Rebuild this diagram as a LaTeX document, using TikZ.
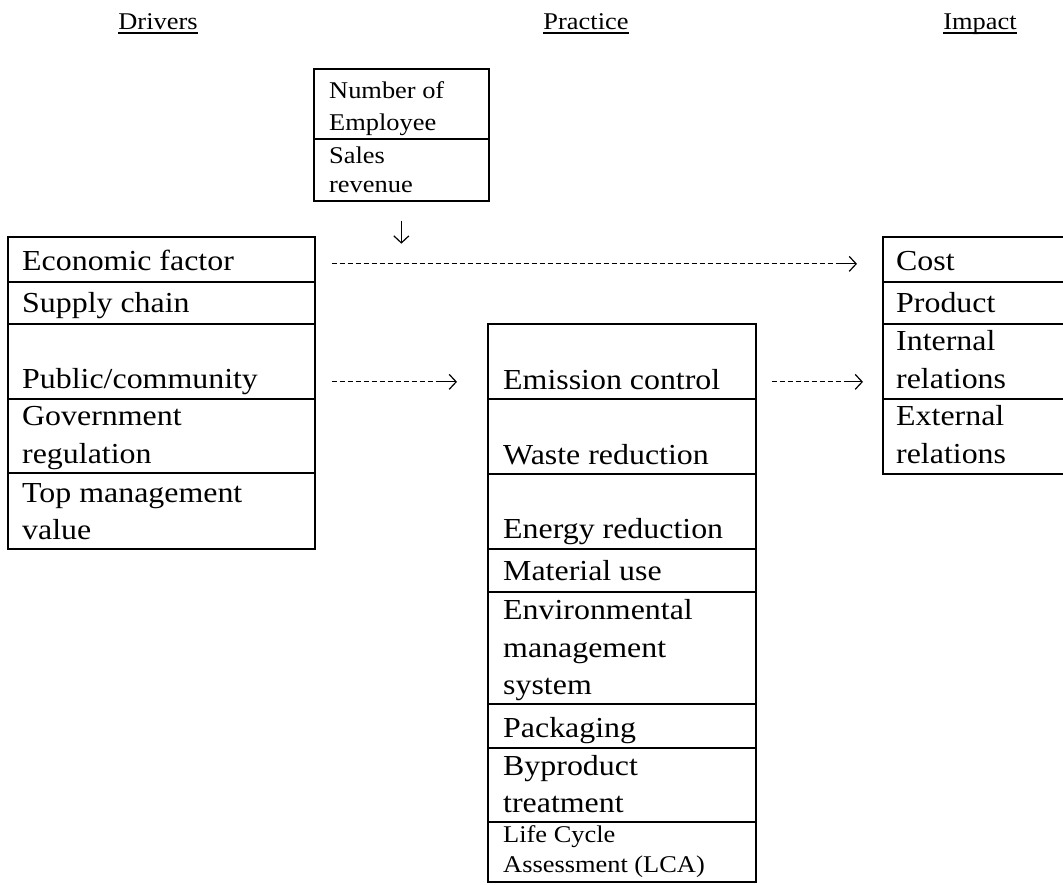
\documentclass[tikz,border=0pt]{standalone}
\usepackage{fontspec}
\setmainfont{Liberation Serif}[FakeStretch=1.1]
\usetikzlibrary{arrows.meta}
\begin{document}
\begin{tikzpicture}[x=1pt,y=-1pt,
  cell/.style={draw, line width=1.7pt, rectangle, inner sep=0pt, anchor=north west},
  big/.style={anchor=base west, inner sep=0pt, font=\fontsize{29pt}{38pt}\selectfont},
  small/.style={anchor=base west, inner sep=0pt, font=\fontsize{24pt}{30pt}\selectfont},
  hdr/.style={anchor=base, inner sep=0pt, font=\fontsize{24pt}{30pt}\selectfont},
  uline/.style={line width=1.3pt},
  dashshaft/.style={line width=1.2pt, dash pattern=on 5pt off 3pt},
  headarrow/.style={line width=1.2pt, -{Straight Barb[length=7pt,width=15pt,line width=1.2pt]}}
]
\useasboundingbox (0,0) rectangle (1063,884);

% headers
\node[hdr] (hdrA) at (158,29) {Drivers};
\node[hdr] (hdrB) at (586,29) {Practice};
\node[hdr] (hdrC) at (980,29) {Impact};
\foreach \h in {hdrA,hdrB,hdrC}
  \draw[uline] ([yshift=-4pt]\h.base west) -- ([yshift=-4pt]\h.base east);

% top box
\node[cell, minimum width=175pt, minimum height=70pt] (emp) at (313,68) {};
\node[cell, minimum width=175pt, minimum height=62pt] (sales) at (313,138) {};
\node[small] at (329,98) {Number of};
\node[small] at (329,130) {Employee};
\node[small] at (329,163) {Sales};
\node[small] at (329,192) {revenue};

% drivers
\node[cell, minimum width=307pt, minimum height=45pt] (econ) at (7,236) {};
\node[cell, minimum width=307pt, minimum height=42pt] (supply) at (7,281) {};
\node[cell, minimum width=307pt, minimum height=75pt] (public) at (7,323) {};
\node[cell, minimum width=307pt, minimum height=74pt] (gov) at (7,398) {};
\node[cell, minimum width=307pt, minimum height=76pt] (topm) at (7,472) {};
\node[big] at (22,270) {Economic factor};
\node[big] at (22,312) {Supply chain};
\node[big] at (22,388) {Public/community};
\node[big] at (22,425) {Government};
\node[big] at (22,463) {regulation};
\node[big] at (22,502) {Top management};
\node[big] at (22,539) {value};

% practice
\node[cell, minimum width=268pt, minimum height=75pt] (emis) at (487,323) {};
\node[cell, minimum width=268pt, minimum height=75pt] (waste) at (487,398) {};
\node[cell, minimum width=268pt, minimum height=75pt] (energy) at (487,473) {};
\node[cell, minimum width=268pt, minimum height=43pt] (mat) at (487,548) {};
\node[cell, minimum width=268pt, minimum height=112pt] (ems) at (487,591) {};
\node[cell, minimum width=268pt, minimum height=44pt] (pack) at (487,703) {};
\node[cell, minimum width=268pt, minimum height=74pt] (byp) at (487,747) {};
\node[cell, minimum width=268pt, minimum height=60pt] (lca) at (487,821) {};
\node[big] at (503,389) {Emission control};
\node[big] at (503,464) {Waste reduction};
\node[big] at (503,538) {Energy reduction};
\node[big] at (503,580) {Material use};
\node[big] at (503,619) {Environmental};
\node[big] at (503,657) {management};
\node[big] at (503,694) {system};
\node[big] at (503,737) {Packaging};
\node[big] at (503,775) {Byproduct};
\node[big] at (503,812) {treatment};
\node[small] at (503,842) {Life Cycle};
\node[small] at (503,872) {Assessment (LCA)};

% impact (right edge runs off the page)
\node[cell, minimum width=184pt, minimum height=45pt] (cost) at (882,236) {};
\node[cell, minimum width=184pt, minimum height=42pt] (prod) at (882,281) {};
\node[cell, minimum width=184pt, minimum height=75pt] (intr) at (882,323) {};
\node[cell, minimum width=184pt, minimum height=75pt] (extr) at (882,398) {};
\node[big] at (896,270) {Cost};
\node[big] at (896,312) {Product};
\node[big] at (896,350) {Internal};
\node[big] at (896,388) {relations};
\node[big] at (896,425) {External};
\node[big] at (896,463) {relations};

% connectors
\draw[headarrow] ([yshift=-19pt]sales.south) -- ([yshift=-42pt]sales.south);

\draw[dashshaft] ([xshift=16pt,yshift=-4.5pt]econ.east) -- ([xshift=-43pt,yshift=-4.5pt]cost.west);
\draw[headarrow] ([xshift=-43pt,yshift=-4.5pt]cost.west) -- ([xshift=-25pt,yshift=-4.5pt]cost.west);

\draw[dashshaft] ([xshift=16pt,yshift=-20.5pt]public.east) -- ([xshift=-47pt,yshift=-20.5pt]emis.west);
\draw[headarrow] ([xshift=-47pt,yshift=-20.5pt]emis.west) -- ([xshift=-30pt,yshift=-20.5pt]emis.west);

\draw[dashshaft] ([xshift=15pt,yshift=-20.5pt]emis.east) -- ([xshift=-36pt,yshift=-20.5pt]intr.west);
\draw[headarrow] ([xshift=-36pt,yshift=-20.5pt]intr.west) -- ([xshift=-19pt,yshift=-20.5pt]intr.west);
\end{tikzpicture}
\end{document}
